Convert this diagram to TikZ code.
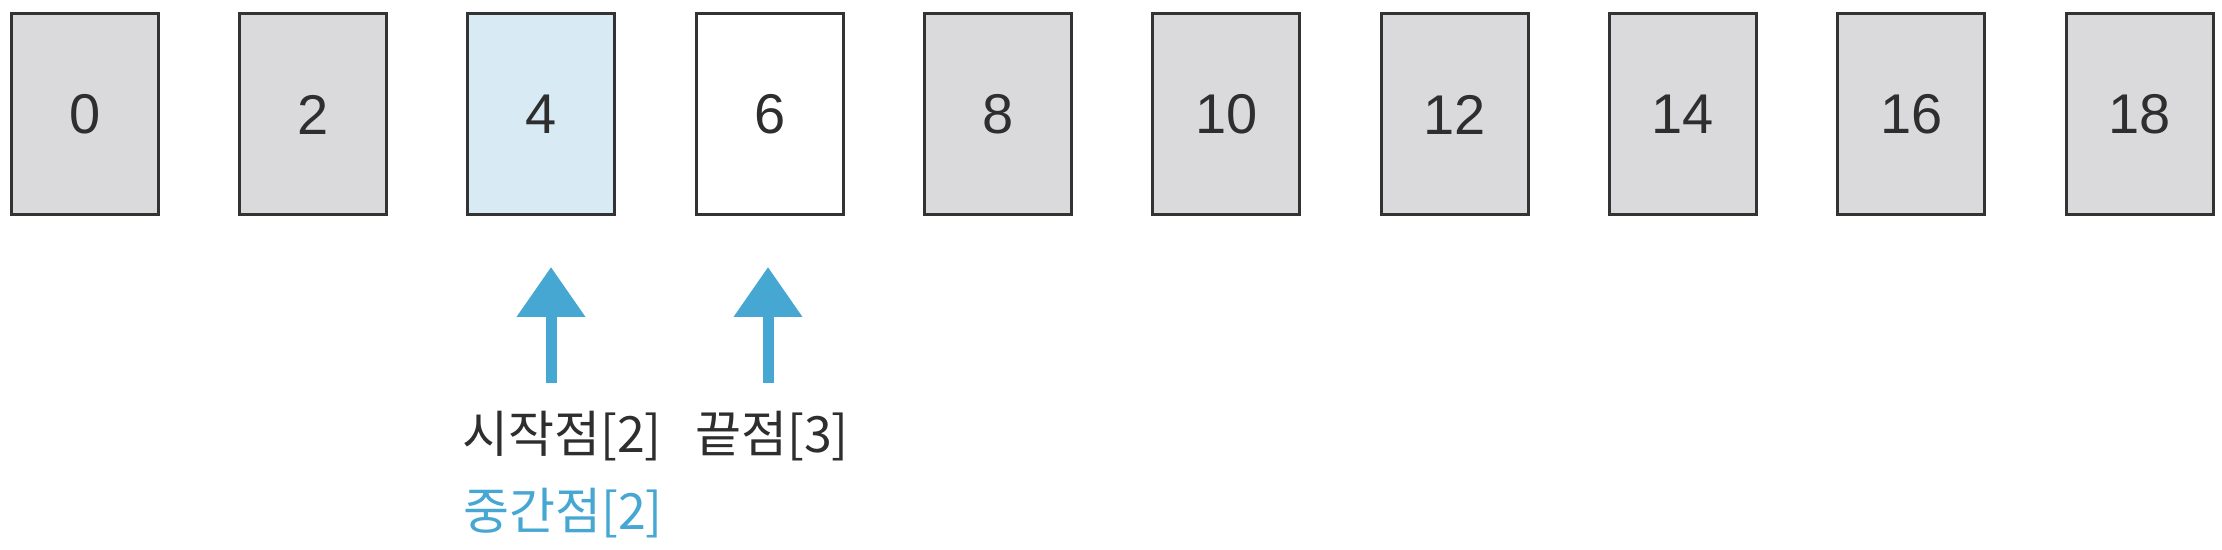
\documentclass[tikz,border=0pt]{standalone}
\usepackage{fontspec}
\setmainfont{Liberation Sans}
\newfontfamily\kor{Noto Sans CJK KR}
\usetikzlibrary{arrows.meta}
\definecolor{boxgray}{HTML}{DADADC}
\definecolor{boxblue}{HTML}{D8EBF4}
\definecolor{edgec}{HTML}{333333}
\definecolor{arrowblue}{HTML}{45A7D2}
\definecolor{txt}{HTML}{2E2E2E}
\begin{document}
\begin{tikzpicture}[x=0.5pt,y=0.5pt,
  cell/.style={draw=edgec,line width=1.5pt,fill=boxgray,minimum width=73.5pt,minimum height=100.5pt,inner sep=0pt,font=\fontsize{28}{30}\selectfont,text=txt},
  bluearrow/.style={draw=arrowblue,line width=5.5pt,-{Triangle[length=25pt,width=33pt,fill=arrowblue]}},
  lab/.style={font=\kor\fontsize{25}{28}\selectfont,text=txt,inner sep=0pt},
  bluelab/.style={lab,text=arrowblue}]
\useasboundingbox (0,0) rectangle (2222,550);
\foreach \v [count=\i from 0] in {0,2,4,6,8,10,12,14,16,18}{
  \node[cell] (b\i) at (84.8+228.3*\i,435.5) {\v};
}
\node[cell,fill=boxblue] at (b2) {4};
\node[cell,fill=white] at (b3) {6};
\coordinate (a1s) at (551,167);
\coordinate (a1e) at (551,283);
\coordinate (a2s) at (768,167);
\coordinate (a2e) at (768,283);
\draw[bluearrow] (a1s) -- (a1e);
\draw[bluearrow] (a2s) -- (a2e);
\node[lab] (l1) at (562,114) {시작점[2]};
\node[lab] (l2) at (772,114) {끝점[3]};
\node[bluelab] (l3) at (563,37) {중간점[2]};
\end{tikzpicture}
\end{document}
